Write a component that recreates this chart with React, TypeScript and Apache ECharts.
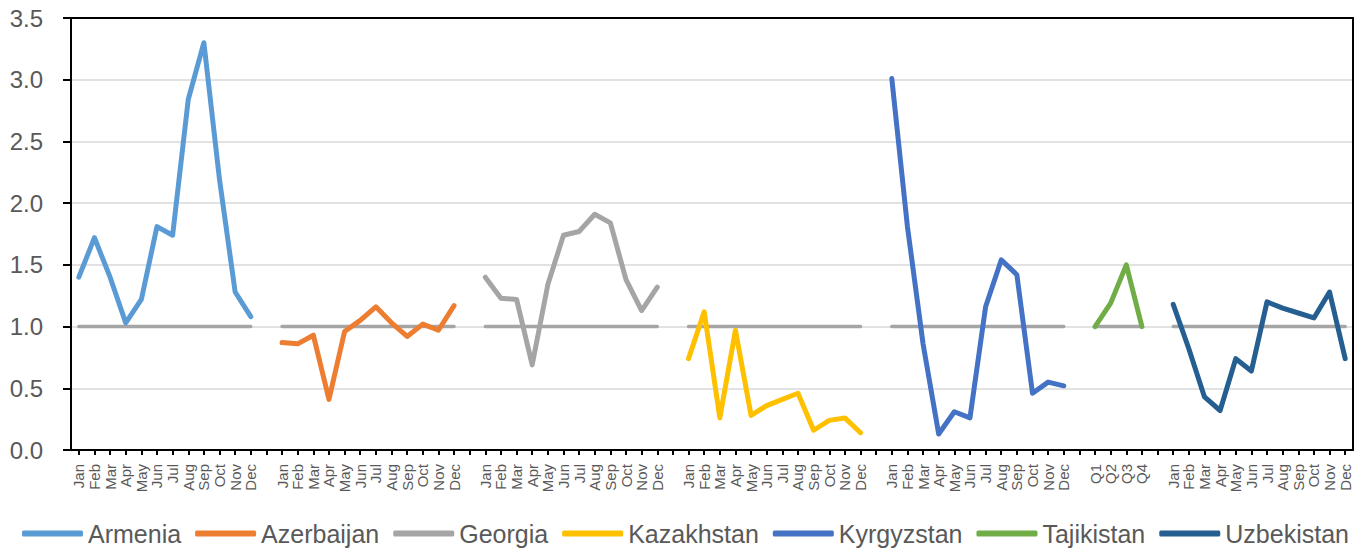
import React, { useEffect, useRef } from "react";
import * as echarts from "echarts";

const MONTHS = ["Jan", "Feb", "Mar", "Apr", "May", "Jun", "Jul", "Aug", "Sep", "Oct", "Nov", "Dec"];
const QUARTERS = ["Q1", "Q2", "Q3", "Q4"];

const COUNTRIES = ["Armenia", "Azerbaijan", "Georgia", "Kazakhstan", "Kyrgyzstan", "Tajikistan", "Uzbekistan"];

const armenia = [1.4, 1.72, 1.4, 1.03, 1.22, 1.81, 1.74, 2.84, 3.3, 2.19, 1.28, 1.08];
const azerbaijan = [0.87, 0.86, 0.93, 0.41, 0.96, 1.05, 1.16, 1.03, 0.92, 1.02, 0.97, 1.17];
const georgia = [1.4, 1.23, 1.22, 0.69, 1.34, 1.74, 1.77, 1.91, 1.84, 1.38, 1.13, 1.32];
const kazakhstan = [0.74, 1.12, 0.26, 0.97, 0.28, 0.36, 0.41, 0.46, 0.16, 0.24, 0.26, 0.14];
const kyrgyzstan = [3.01, 1.81, 0.86, 0.13, 0.31, 0.26, 1.16, 1.54, 1.42, 0.46, 0.55, 0.52];
const tajikistan = [1.0, 1.19, 1.5, 1.0];
const uzbekistan = [1.18, 0.82, 0.43, 0.32, 0.74, 0.64, 1.2, 1.15, 1.11, 1.07, 1.28, 0.74];

const BASELINE = 1.0;

const VALUES = [armenia, azerbaijan, georgia, kazakhstan, kyrgyzstan, tajikistan, uzbekistan];
const PERIODS = [MONTHS, MONTHS, MONTHS, MONTHS, MONTHS, QUARTERS, MONTHS];

const COLORS = ["#5B9BD5", "#ED7D31", "#A5A5A5", "#FFC000", "#4472C4", "#70AD47", "#255E91"];

export default function App() {
  const ref = useRef<HTMLDivElement>(null);
  useEffect(() => {
    if (!ref.current) return;
    const chart = echarts.init(ref.current, null, { renderer: "svg" });

    const categories: string[] = [];
    const starts: number[] = [];
    PERIODS.forEach((p, gi) => {
      if (gi > 0) categories.push("");
      starts.push(categories.length);
      p.forEach((l) => categories.push(l));
    });
    const N = categories.length;

    const refData: (number | null)[] = new Array(N).fill(null);
    PERIODS.forEach((p, gi) => {
      p.forEach((_, i) => {
        refData[starts[gi] + i] = BASELINE;
      });
    });

    const countrySeries = COUNTRIES.map((name, gi) => {
      const d: (number | null)[] = new Array(N).fill(null);
      VALUES[gi].forEach((v, i) => {
        d[starts[gi] + i] = v;
      });
      return {
        name,
        type: "line",
        xAxisIndex: 0,
        yAxisIndex: 0,
        data: d,
        showSymbol: false,
        connectNulls: false,
        z: 3,
        itemStyle: { color: COLORS[gi] },
        lineStyle: { color: COLORS[gi], width: 5, cap: "round", join: "round" },
      };
    });

    const font = "'Liberation Sans', Arial, sans-serif";
    chart.setOption({
      animation: false,
      grid: {
        left: 71,
        right: 17,
        top: 18,
        bottom: 98,
        show: true,
        backgroundColor: "rgba(0,0,0,0)",
        borderColor: "#000000",
        borderWidth: 2,
        z: 10,
      },
      legend: {
        data: COUNTRIES,
        left: 17,
        top: 516,
        itemWidth: 61,
        itemHeight: 6,
        itemGap: 14,
        icon: "roundRect",
        textStyle: {
          color: "#595959",
          fontSize: 25,
          fontFamily: font,
        },
      },
      xAxis: [
        {
          type: "category",
          data: categories,
          boundaryGap: true,
          axisLine: { show: true, lineStyle: { color: "#000000", width: 2 } },
          axisTick: { show: true, alignWithLabel: true, interval: 0, length: 5, lineStyle: { color: "#000000", width: 2 } },
          axisLabel: {
            interval: 0,
            rotate: 90,
            margin: 14,
            color: "#595959",
            fontSize: 15,
            fontFamily: font,
          },
          splitLine: { show: false },
        },
        {
          type: "category",
          data: categories,
          position: "top",
          boundaryGap: true,
          axisLine: { show: true, lineStyle: { color: "#000000", width: 2 } },
          axisTick: { show: false },
          axisLabel: { show: false },
          splitLine: { show: false },
        },
      ],
      yAxis: [
        {
          type: "value",
          min: 0,
          max: 3.5,
          interval: 0.5,
          axisLine: { show: true, lineStyle: { color: "#000000", width: 2 } },
          axisTick: { show: true, length: 8, lineStyle: { color: "#000000", width: 2 } },
          axisLabel: {
            color: "#595959",
            fontSize: 24,
            margin: 28,
            fontFamily: font,
            formatter: (v: number) => v.toFixed(1),
          },
          splitLine: { lineStyle: { color: "#D9D9D9", width: 1.5 } },
        },
        {
          type: "value",
          min: 0,
          max: 3.5,
          interval: 0.5,
          position: "right",
          axisLine: { show: true, lineStyle: { color: "#000000", width: 2 } },
          axisTick: { show: false },
          axisLabel: { show: false },
          splitLine: { show: false },
        },
      ],
      series: [
        {
          name: "Baseline",
          type: "line",
          xAxisIndex: 0,
          yAxisIndex: 0,
          data: refData,
          showSymbol: false,
          connectNulls: false,
          z: 2,
          itemStyle: { color: "#A5A5A5" },
          lineStyle: { color: "#A5A5A5", width: 3.5, cap: "round" },
        },
        ...countrySeries,
      ],
    });
    return () => chart.dispose();
  }, []);
  return (
    <div
      ref={ref}
      style={{ position: "fixed", left: 0, top: 0, width: 1370, height: 548, background: "#fff" }}
    />
  );
}
